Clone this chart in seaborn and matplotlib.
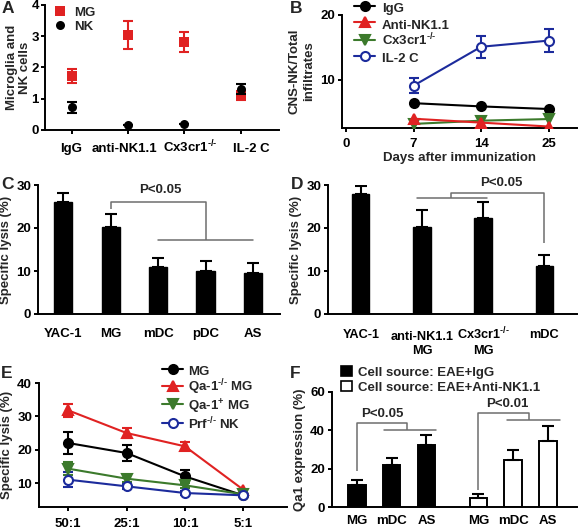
import numpy as np
import pandas as pd
import matplotlib
matplotlib.use('Agg')
import matplotlib.pyplot as plt
import matplotlib.transforms as mtransforms
import seaborn as sns
from matplotlib.patches import Patch

sns.set_theme(style='ticks')
plt.rcParams['font.family'] = ['Liberation Sans', 'DejaVu Sans']
plt.rcParams['font.weight'] = 'bold'
plt.rcParams['axes.labelweight'] = 'bold'
plt.rcParams['mathtext.fontset'] = 'custom'
plt.rcParams['mathtext.rm'] = 'Liberation Sans:bold'
plt.rcParams['mathtext.bf'] = 'Liberation Sans:bold'
plt.rcParams['mathtext.it'] = 'Liberation Sans:bold'
plt.rcParams['mathtext.sf'] = 'Liberation Sans:bold'

RED = '#E02222'
BLUE = '#1C2B9C'
GREEN = '#3C7A2C'
GRAY = '#6E6E6E'
FS = 9.5
KO = '$^{\u2010/\u2010}$'

# ---------------- data ----------------
# Panel A
a_groups = ['IgG', 'anti-NK1.1', 'Cx3cr1' + KO, 'IL-2 C']
a_mg = [1.72, 3.05, 2.80, 1.10]
a_mg_err = [0.22, 0.45, 0.32, 0.15]
a_nk = [0.72, 0.15, 0.20, 1.32]
a_nk_err = [0.18, 0.0, 0.0, 0.16]

# Panel B
b_day_ticks = [0, 7, 14, 25]
b_days = [7, 14, 25]
b_igg = [6.4, 5.9, 5.5]
b_anti = [4.0, 3.4, 2.8]
b_cx3 = [3.2, 3.7, 3.95]
b_il2 = [9.1, 15.1, 16.05]
b_il2_err = [1.2, 1.7, 1.75]

# Panel C
c_cells = ['YAC-1', 'MG', 'mDC', 'pDC', 'AS']
c_lysis = [26.0, 20.2, 11.0, 10.1, 9.6]
c_err = [2.1, 3.1, 2.0, 2.3, 2.3]

# Panel D
d_cells = ['YAC-1', 'anti-NK1.1\nMG', 'Cx3cr1' + KO + '\nMG', 'mDC']
d_lysis = [27.9, 20.2, 22.4, 11.2]
d_err = [1.9, 4.1, 3.6, 2.5]

# Panel E
e_ratios = ['50:1', '25:1', '10:1', '5:1']
e_mg = [22.0, 19.0, 12.0, 6.3]
e_mg_err = [3.2, 2.5, 2.0, 0.0]
e_qako = [31.8, 25.0, 21.0, 8.0]
e_qako_err = [2.0, 1.5, 1.2, 0.0]
e_qapos = [14.3, 11.3, 9.3, 6.6]
e_qapos_err = [1.9, 1.0, 0.8, 0.0]
e_prf = [11.0, 9.0, 7.0, 6.3]
e_prf_err = [2.2, 0.8, 0.5, 0.0]

# Panel F
f_cells = ['MG', 'mDC', 'AS']
f_igg = [11.6, 22.1, 32.2]
f_igg_err = [2.7, 3.6, 5.2]
f_anti = [4.9, 24.3, 34.3]
f_anti_err = [2.1, 5.3, 7.8]

# ---------------- figure ----------------
W, H = 582, 530
fig = plt.figure(figsize=(W / 100, H / 100), dpi=100)


def px_axes(l, r, t, b):
    return fig.add_axes([l / W, 1 - b / H, (r - l) / W, (b - t) / H])


def style_ax(ax, xtick_len=3):
    sns.despine(ax=ax)
    for s in ['left', 'bottom']:
        ax.spines[s].set_linewidth(1.4)
        ax.spines[s].set_color('black')
    ax.tick_params(axis='both', width=1.4, length=3, color='black',
                   labelsize=FS, pad=2, labelcolor='black')
    ax.tick_params(axis='x', length=xtick_len)
    ax.set_facecolor('white')


def shift(lab, dx_px, dy_px):
    lab.set_transform(lab.get_transform() +
                      mtransforms.ScaledTranslation(dx_px / 100, dy_px / 100,
                                                    fig.dpi_scale_trans))


def bracket(ax, xs, ys, low, text, txy):
    ax.plot(xs, ys, color=GRAY, lw=1.1, clip_on=False, solid_capstyle='butt')
    ax.plot(low, [ys[-1], ys[-1]], color=GRAY, lw=1.1, clip_on=False)
    ax.text(txy[0], txy[1], text, ha='center', va='center', fontsize=FS,
            fontweight='bold', clip_on=False)


leg_kw = dict(frameon=False, fontsize=FS, borderpad=0, borderaxespad=0,
              bbox_transform=fig.transFigure, loc='upper left')

# ---- A ----
axA = px_axes(45, 279, 5, 130)
xa = np.arange(len(a_groups))
axA.errorbar(xa, a_mg, yerr=a_mg_err, fmt='none', ecolor=RED, elinewidth=1.5,
             capsize=3.5, capthick=1.5, zorder=2)
sns.scatterplot(x=xa, y=a_mg, marker='s', color=RED, s=42, edgecolor=RED,
                linewidth=0, ax=axA, label='MG', zorder=3)
axA.errorbar(xa, a_nk, yerr=a_nk_err, fmt='none', ecolor='black', elinewidth=1.5,
             capsize=3.5, capthick=1.5, zorder=4)
sns.scatterplot(x=xa, y=a_nk, marker='o', color='black', s=42, edgecolor='black',
                linewidth=0, ax=axA, label='NK', zorder=5)
axA.set_xlim(-0.47, 3.68)
axA.set_ylim(0, 4)
axA.set_yticks([0, 1, 2, 3, 4])
axA.set_xticks(xa)
axA.set_xticklabels(a_groups)
axA.set_ylabel('Microglia and\nNK cells', fontsize=FS, labelpad=0.5,
               linespacing=1.05)
style_ax(axA)
axA.tick_params(axis='y', pad=1.5)
axA.tick_params(axis='x', pad=12.8)
for lab, dx in zip(axA.get_xticklabels(), [0, -3, 6, 11]):
    lab.set_verticalalignment('baseline')
    shift(lab, dx, 0)
axA.legend(bbox_to_anchor=(53 / W, 1 - 5 / H), labelspacing=0.0,
           handletextpad=0.6, handlelength=1.0, handleheight=1.15, **leg_kw)

# ---- B ----
axB = px_axes(342, 577, 15, 128)
bpos = [b_day_ticks.index(d) for d in b_days]
axB.errorbar(bpos, b_il2, yerr=b_il2_err, fmt='none', ecolor=BLUE, elinewidth=1.5,
             capsize=3.5, capthick=1.5, zorder=2)
line_kw = dict(linewidth=1.5, markersize=6.5, markeredgewidth=1.5, ax=axB)
sns.lineplot(x=bpos, y=b_igg, color='black', marker='o', markeredgecolor='black',
             label='IgG', zorder=3, **line_kw)
sns.lineplot(x=bpos, y=b_anti, color=RED, marker='^', markeredgecolor=RED,
             label='Anti-NK1.1', zorder=4, **line_kw)
sns.lineplot(x=bpos, y=b_cx3, color=GREEN, marker='v', markeredgecolor=GREEN,
             label='Cx3cr1' + KO, zorder=3, **line_kw)
sns.lineplot(x=bpos, y=b_il2, color=BLUE, marker='o', markeredgecolor=BLUE,
             markerfacecolor='white', label='IL-2 C', zorder=3, **line_kw)
axB.set_xlim(-0.06, 3.42)
axB.set_ylim(2.57, 20)
axB.set_yticks([10, 20])
axB.set_xticks(range(len(b_day_ticks)))
axB.set_xticklabels([str(d) for d in b_day_ticks])
axB.set_xlabel('Days after immunization', fontsize=FS, labelpad=1.5)
axB.set_ylabel('CNS-NK/Total\ninfiltrates', fontsize=FS, labelpad=4)
style_ax(axB)
axB.tick_params(axis='x', pad=4)
axB.legend(bbox_to_anchor=(354 / W, 1 + 0 / H), labelspacing=0.0,
           handletextpad=0.5, handlelength=1.6, handleheight=1.5, **leg_kw)

# ---- C ----
axC = px_axes(38, 280, 185, 314)
sns.barplot(x=c_cells, y=c_lysis, color='black', width=0.38, saturation=1,
            errorbar=None, edgecolor='black', ax=axC)
xc = np.arange(len(c_cells))
axC.errorbar(xc, c_lysis, yerr=[np.zeros(len(c_err)), c_err], fmt='none',
             ecolor='black', elinewidth=1.5, capsize=4.5, capthick=1.5)
axC.set_xlim(-0.53, 4.57)
axC.set_ylim(0, 30)
axC.set_yticks([0, 10, 20, 30])
axC.set_ylabel('Specific lysis (%)', fontsize=FS, labelpad=3)
style_ax(axC, xtick_len=0)
axC.tick_params(axis='x', pad=10)
bracket(axC, [1, 1, 3, 3], [24.5, 26.1, 26.1, 17.2], [2, 4], 'P<0.05', (2.05, 28.8))

# ---- D ----
axD = px_axes(328, 577, 185, 314)
sns.barplot(x=d_cells, y=d_lysis, color='black', width=0.28, saturation=1,
            errorbar=None, edgecolor='black', ax=axD)
xd = np.arange(len(d_cells))
axD.errorbar(xd, d_lysis, yerr=[np.zeros(len(d_err)), d_err], fmt='none',
             ecolor='black', elinewidth=1.5, capsize=4.5, capthick=1.5)
axD.set_xlim(-0.54, 3.54)
axD.set_ylim(0, 30)
axD.set_yticks([0, 10, 20, 30])
axD.set_ylabel('Specific lysis (%)', fontsize=FS, labelpad=3)
style_ax(axD, xtick_len=0)
axD.tick_params(axis='x', pad=9, labelsize=9.2)
# every label aligned on a baseline so the first lines share one height
for lab in axD.get_xticklabels():
    lab.set_verticalalignment('baseline')
    if '\n' in lab.get_text():
        shift(lab, 0, -27)
    else:
        shift(lab, 0, -11)

bracket(axD, [3, 3, 1.48, 1.48], [16.6, 28.2, 28.2, 26.9], [0.92, 2.07], 'P<0.05', (2.3, 30.5))

# ---- E ----
axE = px_axes(39, 287, 383, 507)
xe = np.arange(len(e_ratios))
e_series = [
    ('MG', e_mg, e_mg_err, 'black', 'o', 'black'),
    ('Qa-1' + KO + ' MG', e_qako, e_qako_err, RED, '^', RED),
    ('Qa-1$^{+}$ MG', e_qapos, e_qapos_err, GREEN, 'v', GREEN),
    ('Prf' + KO + ' NK', e_prf, e_prf_err, BLUE, 'o', 'white'),
]
for name, vals, errs, col, mk, mfc in e_series:
    axE.errorbar(xe, vals, yerr=errs, fmt='none', ecolor=col, elinewidth=1.5,
                 capsize=3.5, capthick=1.5, zorder=2)
    sns.lineplot(x=xe, y=vals, color=col, marker=mk, markeredgecolor=col,
                 markerfacecolor=mfc, markersize=6.5, markeredgewidth=1.5,
                 linewidth=1.5, label=name, ax=axE, zorder=3)
axE.set_xlim(-0.5, 3.75)
axE.set_ylim(2.8, 40)
axE.set_yticks([10, 20, 30, 40])
axE.set_xticks(xe)
axE.set_xticklabels(e_ratios)
axE.set_ylabel('Specific lysis (%)', fontsize=FS, labelpad=3)
style_ax(axE)
axE.tick_params(axis='x', pad=5)
axE.legend(bbox_to_anchor=(162 / W, 1 - 363 / H), labelspacing=0.0,
           handletextpad=0.4, handlelength=1.6, handleheight=1.33, **leg_kw)

# ---- F ----
axF = px_axes(332, 577, 392, 507)
f_group_start = [0.0, 3.5]
f_pos_igg = [f_group_start[0] + i for i in range(len(f_cells))]
f_pos_anti = [f_group_start[1] + i for i in range(len(f_cells))]
sns.barplot(x=f_pos_igg, y=f_igg, native_scale=True, color='black', width=0.5,
            saturation=1, errorbar=None, edgecolor='black', linewidth=1.4, ax=axF)
sns.barplot(x=f_pos_anti, y=f_anti, native_scale=True, color='white', width=0.5,
            saturation=1, errorbar=None, edgecolor='black', linewidth=1.4, ax=axF)
axF.errorbar(f_pos_igg, f_igg, yerr=[np.zeros(3), f_igg_err], fmt='none',
             ecolor='black', elinewidth=1.5, capsize=4, capthick=1.5)
axF.errorbar(f_pos_anti, f_anti, yerr=[np.zeros(3), f_anti_err], fmt='none',
             ecolor='black', elinewidth=1.5, capsize=4, capthick=1.5)
axF.set_xlim(-0.72, 6.34)
axF.set_ylim(0, 60)
axF.set_yticks([0, 20, 40, 60])
axF.set_xticks(f_pos_igg + f_pos_anti)
axF.set_xticklabels(f_cells + f_cells)
axF.set_ylabel('Qa1 expression (%)', fontsize=FS, labelpad=3)
style_ax(axF, xtick_len=0)
axF.tick_params(axis='x', pad=6)
bracket(axF, [0, 0, 1.45, 1.45], [18.8, 43.8, 43.8, 40.0], [0.78, 2.28], 'P<0.05', (0.72, 48.7))
bracket(axF, [3.5, 3.5, 4.96, 4.96], [8.7, 49.0, 49.0, 45.6], [4.33, 5.85], 'P<0.01', (4.32, 53.9))
handles = [Patch(facecolor='black', edgecolor='black', linewidth=1.2),
           Patch(facecolor='white', edgecolor='black', linewidth=1.2)]
axF.legend(handles, ['Cell source: EAE+IgG', 'Cell source: EAE+Anti-NK1.1'],
           bbox_to_anchor=(341 / W, 1 - 366 / H), labelspacing=0.2,
           handletextpad=0.5, handlelength=0.8, handleheight=0.8, **leg_kw)

# panel letters
for letter, (x, y) in {'A': (2, 1), 'B': (290, 1), 'C': (1, 177), 'D': (291, 177),
                       'E': (1, 366), 'F': (290, 366)}.items():
    fig.text(x / W, 1 - y / H, letter, fontsize=12.5, fontweight='bold',
             ha='left', va='top')

fig.savefig('out.png', dpi=100, facecolor='white')
